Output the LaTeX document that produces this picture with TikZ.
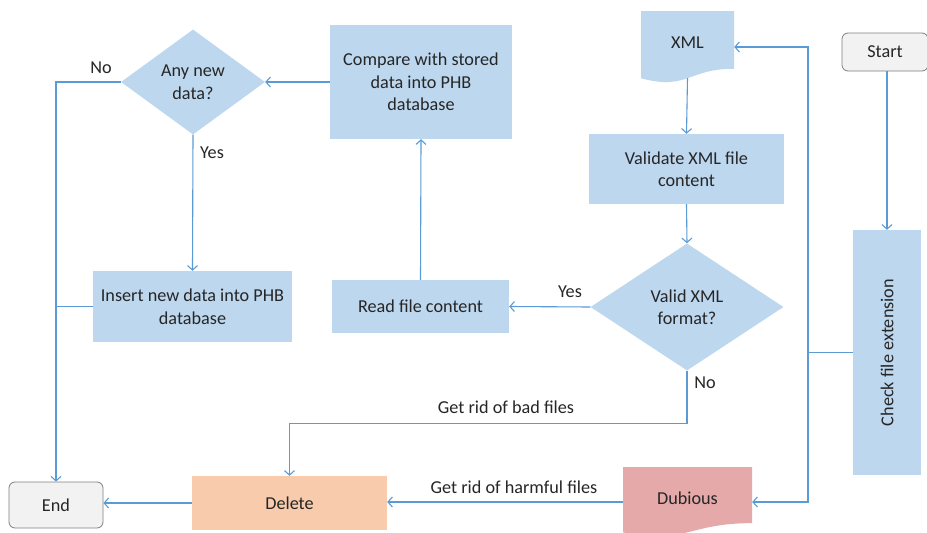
\documentclass[tikz,border=0pt]{standalone}
\usepackage{fontspec}
\setmainfont{Carlito}
\usetikzlibrary{arrows.meta,shapes.geometric,calc}

\definecolor{boxblue}{HTML}{BDD7EE}
\definecolor{lineblue}{HTML}{5B9BD5}
\definecolor{peach}{HTML}{F8CBAD}
\definecolor{rose}{HTML}{E5A9A9}
\definecolor{termfill}{HTML}{F2F2F2}
\definecolor{termline}{HTML}{808080}
\definecolor{ink}{HTML}{262626}

\tikzset{
  every node/.style={font=\fontsize{18.2}{22.5}\selectfont, text=ink, align=center},
  procbox/.style={rectangle, fill=boxblue, inner sep=0pt},
  decision/.style={diamond, fill=boxblue, inner sep=0pt, aspect=1.5},
  terminal/.style={rectangle, rounded corners=6pt, fill=termfill, draw=termline, line width=0.8pt, inner sep=0pt},
  docbox/.style={rectangle, inner sep=0pt, path picture={
      \fill[#1] (path picture bounding box.north west)
        -- (path picture bounding box.north east)
        -- ($(path picture bounding box.north east)!0.802!(path picture bounding box.south east)$)
        .. controls ($(path picture bounding box.north)!0.802!(path picture bounding box.south)$)
        and ($(path picture bounding box.north)!1.107!(path picture bounding box.south)$)
        .. ($(path picture bounding box.north west)!0.934!(path picture bounding box.south west)$)
        -- cycle;}},
  link/.style={draw=lineblue, line width=1.1pt},
  arr/.style={link, -{Straight Barb[length=4.5pt,width=10pt]}},
  lbl/.style={inner sep=0pt}
}

\begin{document}
\begin{tikzpicture}[x=1pt, y=-1pt]
  \useasboundingbox[fill=white] (0,0) rectangle (927,533);

  % right column: input handling
  \node[terminal, minimum width=86pt, minimum height=38pt] (start) at (885,52) {Start};
  \node[procbox, minimum width=68pt, minimum height=245pt] (check) at (887,352.5)
       {\rotatebox{90}{Check file extension}};
  \node[docbox=boxblue, minimum width=93pt, minimum height=72pt] (xml) at (687.5,47) {\raisebox{9pt}{XML}};
  \node[procbox, minimum width=195pt, minimum height=70pt] (validate) at (686.5,169)
       {Validate XML file\\content};
  \node[decision, minimum width=193pt, minimum height=127pt] (valid) at (687,307)
       {Valid XML\\format?};
  \node[docbox=rose, minimum width=129pt, minimum height=70pt] (dubious) at (687.5,502) {\raisebox{7pt}{Dubious}};

  % middle and left: reading and storing
  \node[procbox, minimum width=177pt, minimum height=53pt] (read) at (420.5,306.5) {Read file content};
  \node[procbox, minimum width=182pt, minimum height=114pt] (compare) at (421,82)
       {Compare with stored\\data into PHB\\database};
  \node[decision, minimum width=144pt, minimum height=105pt] (anynew) at (193,82)
       {Any new\\data?};
  \node[procbox, minimum width=199pt, minimum height=71pt] (insert) at (192.5,306.5)
       {Insert new data into PHB\\database};
  \node[procbox, fill=peach, minimum width=195pt, minimum height=54pt] (delete) at (289.5,503) {Delete};
  \node[terminal, minimum width=94pt, minimum height=46pt] (end) at (56,505) {End};

  % routing points of the dispatch line
  \coordinate (bt) at (808,47);
  \coordinate (bb) at (808,502);

  % connectors
  \draw[arr] (start.south -| check.north) -- (check.north);
  \draw[link] (check.west) -- (check.west -| bt);
  \draw[arr] (bt |- check.west) -- (bt) -- (xml.east);
  \draw[arr] (bt |- check.west) -- (bb) -- (dubious.east);
  \draw[arr] ($(xml.north)!0.93!(xml.south)$) -- (validate.north);
  \draw[arr] (validate.south) -- (valid.north);
  \draw[arr] (valid.west) -- (read.east);
  \draw[arr] (read.north) -- (compare.south);
  \draw[arr] (compare.west) -- (anynew.east);
  \draw[arr] (anynew.south) -- (insert.north);
  \draw[arr] (anynew.west) -| (end.north);
  \draw[link] (insert.west) -- (insert.west -| end.north);
  \draw[arr] (valid.south) -- ++(0,53) -| (delete.north);
  \draw[arr] (dubious.west) -- (delete.east |- dubious.west);
  \draw[arr] (delete.west) -- (delete.west -| end.east);

  % connector labels
  \node[lbl] (lno1) at (101,68) {No};
  \node[lbl] (lyes1) at (212,153) {Yes};
  \node[lbl] (lyes2) at (570,292) {Yes};
  \node[lbl] (lno2) at (705,383) {No};
  \node[lbl] (lbad) at (506,407) {Get rid of bad files};
  \node[lbl] (lharm) at (514,487) {Get rid of harmful files};
\end{tikzpicture}
\end{document}
